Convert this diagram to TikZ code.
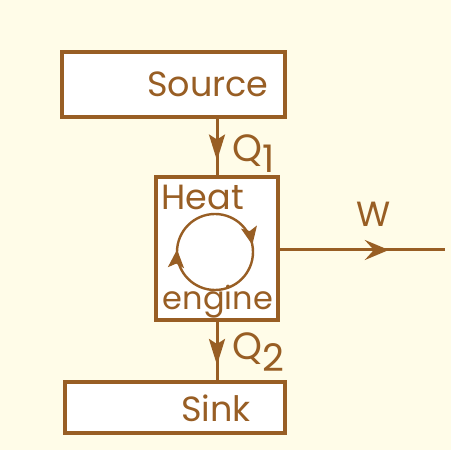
\documentclass[tikz,border=0pt]{standalone}
\usepackage{fontspec}
\setmainfont{Poppins}
\usetikzlibrary{arrows.meta,positioning,calc,decorations.markings}
\definecolor{ink}{RGB}{152,94,36}
\definecolor{paper}{RGB}{255,252,232}
\tikzset{
  blk/.style={rectangle,draw=ink,line width=1.8pt,fill=white,inner sep=0pt,
    text=ink,font=\fontsize{17.5}{20}\selectfont},
  lbl/.style={text=ink,font=\fontsize{17.5}{20}\selectfont,inner sep=1pt},
  flow/.style={draw=ink,line width=1.5pt,postaction={decorate},
    decoration={markings,mark=at position #1 with {\arrow{Stealth[length=13pt,width=8pt,inset=2.5pt]}}}},
  flow/.default=0.74,
  wflow/.style={draw=ink,line width=1.5pt,postaction={decorate},
    decoration={markings,mark=at position 0.66 with {\arrow{Stealth[length=12pt,width=10pt,inset=4.5pt]}}}},
  cyc/.style={draw=ink,line width=1.2pt,postaction={decorate},
    decoration={markings,
      mark=at position 0.22 with {\arrow{Stealth[length=9pt,width=8pt,inset=2pt]}},
      mark=at position 0.76 with {\arrow{Stealth[length=9pt,width=8pt,inset=2pt]}}}},
}

\begin{document}
\begin{tikzpicture}[x=0.5pt,y=0.5pt]
  \fill[paper] (0,0) rectangle (451,450);
  \useasboundingbox (0,0) rectangle (451,450);
  \node (src) [blk,minimum width=111.5pt,minimum height=32.5pt] at (173.5,365.5) {};
  \node (srct) [lbl] at (208,366) {Source};
  \node (eng) [blk,minimum width=61pt,minimum height=71.5pt] at (217,201.5) {};
  \node (snk) [blk,minimum width=110pt,minimum height=25.5pt] at (175,42.5) {};
  \node (snkt) [lbl] at (216,42) {Sink};
  \node (heat) [lbl,anchor=north west] at ($(eng.north west)+(5,-8)$) {Heat};
  \node (engn) [lbl,font=\fontsize{16}{18}\selectfont,anchor=south] at ($(eng.south)+(1,1)$) {engine};
  \coordinate (wend) at (445,200);
  % cycle inside the engine
  \draw[cyc] (215,198)++(0,19pt) arc[start angle=90,end angle=-270,radius=19pt];
  \draw[flow] (src.south -| eng.north) -- node[lbl,font=\fontsize{19}{20}\selectfont,right=6pt,pos=0.62]{Q\raisebox{-0.55ex}{1}} (eng.north);
  \draw[flow] (eng.south) -- node[lbl,font=\fontsize{19}{20}\selectfont,right=6pt,pos=0.52]{Q\raisebox{-0.55ex}{2}} (eng.south |- snk.north);
  \draw[wflow] (eng.east |- wend) -- node[lbl,above=10pt,pos=0.57]{W} (wend);
\end{tikzpicture}
\end{document}
